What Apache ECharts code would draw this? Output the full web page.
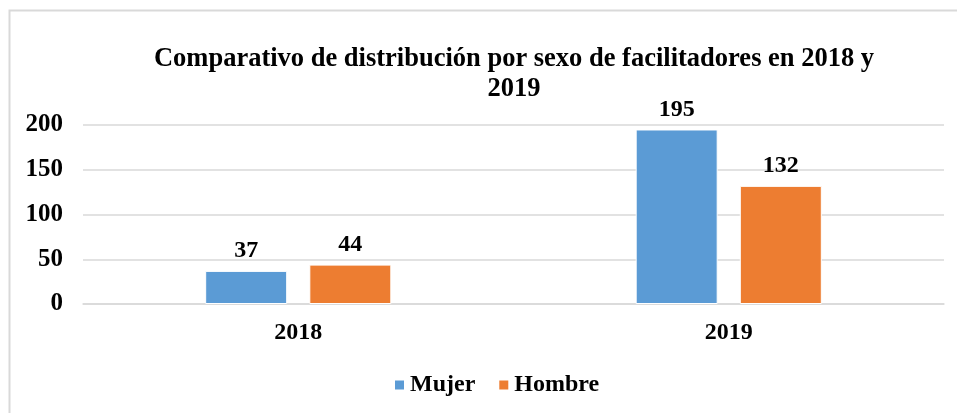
<!DOCTYPE html>
<html>
<head>
<meta charset="utf-8">
<script src="https://cdn.jsdelivr.net/npm/echarts@6/dist/echarts.min.js"></script>
<style>
  html, body { margin: 0; padding: 0; background: #fff; }
  #chart { width: 957px; height: 413px; }
</style>
</head>
<body>
<div id="chart"></div>
<script>
// chart data
const years = ['2018', '2019'];
const mujer = [37, 195];
const hombre = [44, 132];
const seriesNames = ['Mujer', 'Hombre'];

const font = '"Liberation Serif", "Times New Roman", serif';

let chart = echarts.init(document.getElementById('chart'));

let option = {
    animation: false,
    graphic: [{
        type: 'rect',
        shape: { x: 9.5, y: 10.5, width: 1000, height: 500 },
        style: { fill: 'none', stroke: '#d9d9d9', lineWidth: 2 },
        silent: true
    }],
    title: {
        text: 'Comparativo de distribución por sexo de facilitadores en 2018 y\n2019',
        left: 509,
        top: 39,
        textAlign: 'center',
        textStyle: { fontFamily: font, fontWeight: 'bold', fontSize: 26.5, lineHeight: 30, color: '#000' }
    },
    legend: {
        data: seriesNames,
        bottom: 11,
        left: 388,
        itemWidth: 11,
        itemHeight: 11,
        itemGap: 22,
        icon: 'rect',
        textStyle: { fontFamily: font, fontWeight: 'bold', fontSize: 24, color: '#000' }
    },
    grid: { left: 83, right: 13, top: 125, bottom: 109, containLabel: false },
    xAxis: {
        type: 'category',
        data: years,
        axisLine: { lineStyle: { color: '#d9d9d9', width: 1.5 } },
        axisTick: { show: false },
        axisLabel: { fontFamily: font, fontWeight: 'bold', fontSize: 24, color: '#000', margin: 17 }
    },
    yAxis: {
        type: 'value',
        min: 0,
        max: 200,
        interval: 50,
        axisLine: { show: false },
        axisTick: { show: false },
        splitLine: { lineStyle: { color: '#d9d9d9', width: 1.5 } },
        axisLabel: { fontFamily: font, fontWeight: 'bold', fontSize: 25, color: '#000', margin: 20 }
    },
    series: [
        {
            name: 'Mujer',
            type: 'bar',
            data: mujer,
            barWidth: 82,
            barGap: '27%',
            itemStyle: { color: '#5b9bd5', borderColor: '#fff', borderWidth: 1 },
            label: { show: true, position: 'top', distance: 8, fontFamily: font, fontWeight: 'bold', fontSize: 24, color: '#000' }
        },
        {
            name: 'Hombre',
            type: 'bar',
            data: hombre,
            barWidth: 82,
            itemStyle: { color: '#ed7d31', borderColor: '#fff', borderWidth: 1 },
            label: { show: true, position: 'top', distance: 8, fontFamily: font, fontWeight: 'bold', fontSize: 24, color: '#000' }
        }
    ]
};

chart.setOption(option);
</script>
</body>
</html>
